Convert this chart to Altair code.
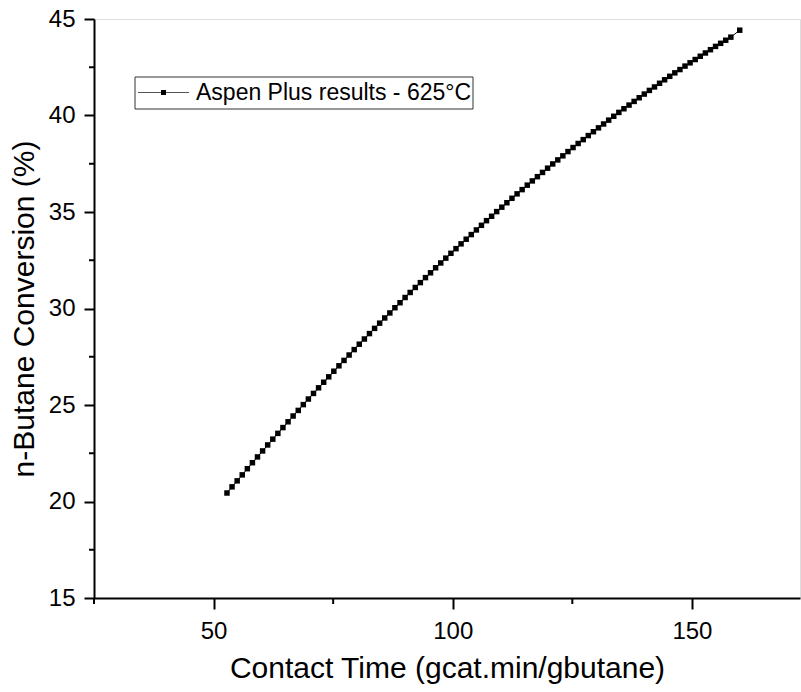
import altair as alt
import pandas as pd

# ---- data ----
contact_time = [
    52.80, 53.86, 54.93, 55.99, 57.06, 58.12, 59.18, 60.25, 61.31, 62.38,
    63.44, 64.50, 65.57, 66.63, 67.70, 68.76, 69.82, 70.89, 71.95, 73.02,
    74.08, 75.14, 76.21, 77.27, 78.34, 79.40, 80.46, 81.53, 82.59, 83.66,
    84.72, 85.78, 86.85, 87.91, 88.98, 90.04, 91.10, 92.17, 93.23, 94.30,
    95.36, 96.42, 97.49, 98.55, 99.62, 100.68, 101.74, 102.81, 103.87, 104.94,
    106.00, 107.06, 108.13, 109.19, 110.26, 111.32, 112.38, 113.45, 114.51, 115.58,
    116.64, 117.70, 118.77, 119.83, 120.90, 121.96, 123.02, 124.09, 125.15, 126.22,
    127.28, 128.34, 129.41, 130.47, 131.54, 132.60, 133.66, 134.73, 135.79, 136.86,
    137.92, 138.98, 140.05, 141.11, 142.18, 143.24, 144.30, 145.37, 146.43, 147.50,
    148.56, 149.62, 150.69, 151.75, 152.82, 153.88, 154.94, 156.01, 157.07, 158.14,
    160.00,
]
conversion = [
    20.44, 20.76, 21.07, 21.38, 21.70, 22.01, 22.31, 22.62, 22.93, 23.23,
    23.53, 23.83, 24.13, 24.43, 24.72, 25.02, 25.31, 25.60, 25.89, 26.18,
    26.46, 26.75, 27.03, 27.31, 27.59, 27.87, 28.15, 28.42, 28.70, 28.97,
    29.24, 29.51, 29.77, 30.04, 30.30, 30.57, 30.83, 31.09, 31.34, 31.60,
    31.85, 32.11, 32.36, 32.61, 32.86, 33.10, 33.35, 33.59, 33.83, 34.07,
    34.31, 34.55, 34.78, 35.02, 35.25, 35.48, 35.71, 35.94, 36.16, 36.39,
    36.61, 36.83, 37.05, 37.27, 37.49, 37.70, 37.91, 38.13, 38.34, 38.55,
    38.75, 38.96, 39.16, 39.36, 39.56, 39.76, 39.96, 40.16, 40.35, 40.54,
    40.73, 40.92, 41.11, 41.30, 41.48, 41.67, 41.85, 42.03, 42.21, 42.38,
    42.56, 42.73, 42.90, 43.07, 43.24, 43.41, 43.58, 43.74, 43.90, 44.06,
    44.42,
]
series_label = ["Aspen Plus results - 625°C"]
x_major = [50, 100, 150]
x_minor = [25, 75, 125]
y_major = [15, 20, 25, 30, 35, 40, 45]
y_minor = [17.5, 22.5, 27.5, 32.5, 37.5, 42.5]

# ---- layout / style ----
W, H = 706, 579
FONT = "Liberation Sans"

df = pd.DataFrame({"t": contact_time, "X": conversion})
xscale = alt.Scale(domain=[25, 172.6], nice=False, zero=False)
yscale = alt.Scale(domain=[15, 45], nice=False, zero=False)

common_axis = dict(
    grid=False, tickWidth=2, tickColor="black", domainWidth=2, domainColor="black",
    labelFont=FONT, labelFontSize=24, labelColor="black",
    titleFont=FONT, titleFontSize=30, titleFontWeight="normal", titleColor="black",
)
xaxis = alt.Axis(values=x_major, title="Contact Time (gcat.min/gbutane)", tickSize=11,
                 labelPadding=10, titlePadding=10, **common_axis)
yaxis = alt.Axis(values=y_major, title="n-Butane Conversion (%)", tickSize=10,
                 labelPadding=9, titlePadding=9, **common_axis)

line = alt.Chart(df).mark_line(color="black", strokeWidth=1).encode(
    x=alt.X("t:Q", scale=xscale, axis=xaxis),
    y=alt.Y("X:Q", scale=yscale, axis=yaxis),
)
points = alt.Chart(df).mark_square(size=30, color="black", opacity=1).encode(
    x=alt.X("t:Q", scale=xscale, axis=xaxis),
    y=alt.Y("X:Q", scale=yscale, axis=yaxis),
)

xminor = alt.Chart(pd.DataFrame({"t": x_minor})).mark_rule(color="black", strokeWidth=2).encode(
    x=alt.X("t:Q", scale=xscale, axis=xaxis),
    y=alt.value(H), y2=alt.value(H + 6),
)
yminor = alt.Chart(pd.DataFrame({"X": y_minor})).mark_rule(color="black", strokeWidth=2).encode(
    y=alt.Y("X:Q", scale=yscale, axis=yaxis),
    x=alt.value(0), x2=alt.value(-5),
)

leg_df = pd.DataFrame({"label": series_label})
leg_box = alt.Chart(leg_df).mark_rect(fill="white", stroke="#333333", strokeWidth=1).encode(
    x=alt.value(41), x2=alt.value(379), y=alt.value(58), y2=alt.value(90)
)
leg_line = alt.Chart(leg_df).mark_rule(color="#555555", strokeWidth=1).encode(
    x=alt.value(44), x2=alt.value(95), y=alt.value(73.5)
)
leg_pt = alt.Chart(leg_df).mark_square(size=25, color="black", opacity=1).encode(
    x=alt.value(69.5), y=alt.value(73.5)
)
leg_text = alt.Chart(leg_df).mark_text(align="left", baseline="middle", font=FONT,
                                        fontSize=23, color="black").encode(
    x=alt.value(102), y=alt.value(74), text="label:N"
)

chart = alt.layer(line, points, xminor, yminor, leg_box, leg_line, leg_pt, leg_text).properties(
    width=W, height=H,
    autosize=alt.AutoSizeParams(type="none"),
    padding={"left": 94, "top": 19, "right": 1, "bottom": 94},
).configure_view(strokeWidth=0).configure(background="white")

chart.save("out.html", embed_options={"renderer": "svg", "actions": False})
